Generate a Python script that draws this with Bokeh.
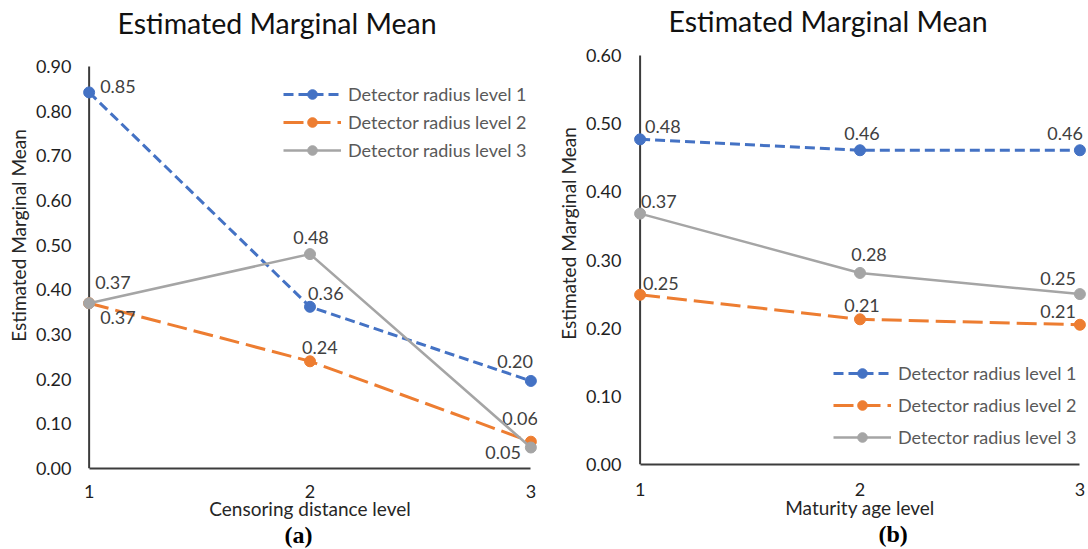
from bokeh.plotting import figure
from bokeh.models import (ColumnDataSource, FixedTicker, NumeralTickFormatter,
                          Legend, LegendItem, Range1d, Label, Title)
from bokeh.layouts import row, column
from bokeh.embed import file_html
from bokeh.resources import INLINE
from bokeh.core.properties import value

# ---------------- data ----------------
levels = [1, 2, 3]
series_names = ["Detector radius level 1", "Detector radius level 2", "Detector radius level 3"]
chart_title = "Estimated Marginal Mean"
y_title = "Estimated Marginal Mean"

# Panel (a): Censoring distance level
a_radius1 = [0.842, 0.362, 0.196]
a_radius2 = [0.370, 0.240, 0.060]
a_radius3 = [0.370, 0.480, 0.047]
a_labels1 = ["0.85", "0.36", "0.20"]
a_labels2 = ["0.37", "0.24", "0.06"]
a_labels3 = ["0.37", "0.48", "0.05"]
a_yticks = [0.0, 0.1, 0.2, 0.3, 0.4, 0.5, 0.6, 0.7, 0.8, 0.9]

# Panel (b): Maturity age level
b_radius1 = [0.477, 0.461, 0.461]
b_radius2 = [0.249, 0.213, 0.205]
b_radius3 = [0.368, 0.281, 0.250]
b_labels1 = ["0.48", "0.46", "0.46"]
b_labels2 = ["0.25", "0.21", "0.21"]
b_labels3 = ["0.37", "0.28", "0.25"]
b_yticks = [0.0, 0.1, 0.2, 0.3, 0.4, 0.5, 0.6]

# ---------------- style ----------------
COLORS = ["#4472C4", "#ED7D31", "#A5A5A5"]
DASHES = ["10 5", "20 7", "solid"]
WIDTHS = [3, 3, 2.5]
FONT = "Lato"
AXIS_COLOR = "#3c3c3c"

# label placement (pixel offsets, alignment) per series
a_place = [
    [(11, -6, "left"), (-2, -13, "left"), (2, -19, "right")],
    [(11, 14, "left"), (-8, -14, "left"), (7, -23, "right")],
    [(6, -21, "left"), (1, -17, "center"), (-10, 5, "right")],
]
b_place = [
    [(5, -13, "left"), (2, -17, "center"), (3, -17, "right")],
    [(3, -11, "left"), (2, -14, "center"), (-4, -13, "right")],
    [(1, -12, "left"), (9, -18, "center"), (-4, -16, "right")],
]


def make_panel(series, labels, places, yticks, xlabel, tag, g):
    frame_h = g["height"] - g["top"] - g["bottom"]
    y_end = yticks[-1] * frame_h / g["axis_px"]   # leave room above the axis for the title
    p = figure(width=g["width"], height=g["height"],
               x_range=Range1d(0.97, 3.03), y_range=Range1d(yticks[0], y_end),
               output_backend="svg", toolbar_location=None,
               min_border_left=g["left"], min_border_right=g["right"],
               min_border_top=g["top"], min_border_bottom=g["bottom"])
    p.outline_line_color = None
    p.background_fill_color = "white"
    p.border_fill_color = "white"
    p.xgrid.visible = False
    p.ygrid.visible = False

    for ax in (p.xaxis[0], p.yaxis[0]):
        ax.major_tick_line_color = None
        ax.minor_tick_line_color = None
        ax.major_tick_out = 0
        ax.major_tick_in = 0
        ax.minor_tick_out = 0
        ax.major_label_text_font = FONT
        ax.major_label_text_font_size = "18px"
        ax.major_label_text_color = "#1f1f1f"
        ax.axis_label_text_font = FONT
        ax.axis_label_text_font_size = "19px"
        ax.axis_label_text_font_style = "normal"
        ax.axis_label_text_color = "#262626"

    p.xaxis.axis_line_color = AXIS_COLOR
    p.xaxis.axis_line_width = 2
    p.xaxis.ticker = FixedTicker(ticks=levels)
    p.xaxis.bounds = (levels[0], levels[-1])
    p.xaxis.axis_label = xlabel
    p.xaxis.major_label_standoff = g["xstand"]
    p.xaxis.axis_label_standoff = g["xlabstand"]

    p.yaxis.axis_line_color = None
    p.yaxis.ticker = FixedTicker(ticks=yticks)
    p.yaxis.bounds = (yticks[0], yticks[-1])
    p.yaxis.formatter = NumeralTickFormatter(format="0.00")
    p.yaxis.axis_label = y_title
    p.yaxis.major_label_standoff = g["ystand"]
    p.yaxis.axis_label_standoff = g["ylabstand"]

    # vertical axis rule drawn at the first category
    p.segment(x0=levels[0], y0=yticks[0], x1=levels[0], y1=yticks[-1],
              line_color=AXIS_COLOR, line_width=2, level="underlay")

    items = []
    for i, (vals, labs, place) in enumerate(zip(series, labels, places)):
        src = ColumnDataSource(dict(x=levels, y=vals))
        ln = p.line("x", "y", source=src, line_color=COLORS[i], line_width=WIDTHS[i],
                    line_dash=DASHES[i])
        sc = p.scatter("x", "y", source=src, size=11, marker="circle",
                       fill_color=COLORS[i], line_color=COLORS[i])
        items.append(LegendItem(label=series_names[i], renderers=[ln, sc]))
        tsrc = ColumnDataSource(dict(x=levels, y=vals, text=labs,
                                     dx=[q[0] for q in place], dy=[q[1] for q in place],
                                     align=[q[2] for q in place]))
        p.text("x", "y", text="text", source=tsrc, x_offset="dx", y_offset="dy",
               text_align="align", text_baseline="middle",
               text_font=value(FONT), text_font_size="18px", text_color="#404040")

    legend = Legend(items=items, location=g["legend_loc"], orientation="vertical",
                    border_line_color=None, background_fill_alpha=0,
                    padding=0, margin=0, glyph_width=58, glyph_height=24,
                    label_height=20, spacing=g["legend_spacing"], label_standoff=7,
                    label_text_font=FONT, label_text_font_size="18px",
                    label_text_color="#595959")
    p.add_layout(legend)

    # chart title (inside the upper free part of the frame)
    p.add_layout(Label(x=g["title_x"], y=g["title_y"], x_units="screen", y_units="screen",
                       text=chart_title, text_align="left", text_baseline="middle",
                       text_font=FONT, text_font_size="28.5px", text_color="#111111"))

    p.add_layout(Title(text=tag, align="left", offset=g["tag_offset"],
                       standoff=g["tag_standoff"], text_font="Liberation Serif",
                       text_font_style="bold", text_font_size="24px",
                       text_line_height=0.8, text_color="#000000"), "below")
    return p


geom_a = dict(width=544, height=549, left=82, right=7, top=2, bottom=81, axis_px=402,
              title_x=35, title_y=446, xstand=16, xlabstand=-4,
              ystand=11, ylabstand=3, legend_loc=(201, 306), legend_spacing=4,
              tag_offset=202, tag_standoff=-6)
geom_b = dict(width=544, height=549, left=89, right=2, top=2, bottom=85, axis_px=409,
              title_x=35, title_y=444, xstand=18, xlabstand=-3,
              ystand=12, ylabstand=3, legend_loc=(200, 15), legend_spacing=8,
              tag_offset=245, tag_standoff=-6)

pa = make_panel([a_radius1, a_radius2, a_radius3], [a_labels1, a_labels2, a_labels3],
                a_place, a_yticks, "Censoring distance level", "(a)", geom_a)
pb = make_panel([b_radius1, b_radius2, b_radius3], [b_labels1, b_labels2, b_labels3],
                b_place, b_yticks, "Maturity age level", "(b)", geom_b)

layout = row(column(pa), column(pb))
open("out.html", "w").write(file_html(layout, INLINE))
